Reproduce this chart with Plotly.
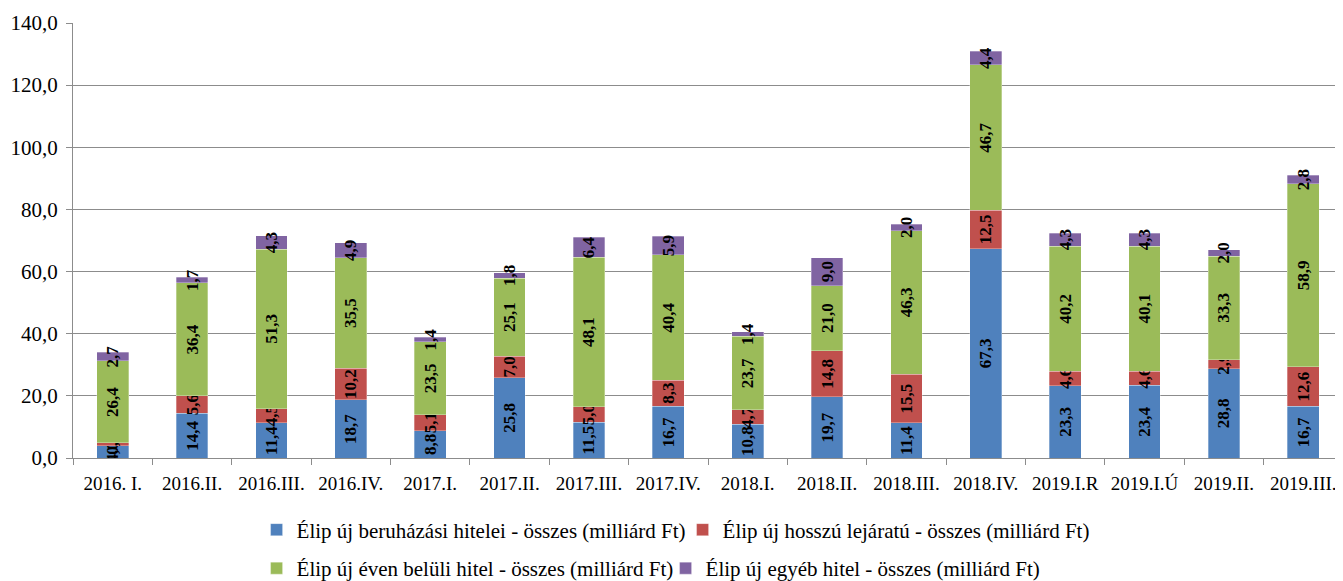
import plotly.graph_objects as go

categories = ["2016. I.", "2016.II.", "2016.III.", "2016.IV.", "2017.I.", "2017.II.",
              "2017.III.", "2017.IV.", "2018.I.", "2018.II.", "2018.III.", "2018.IV.",
              "2019.I.R", "2019.I.Ú", "2019.II.", "2019.III."]
beruhazasi = [4.0, 14.4, 11.4, 18.7, 8.8, 25.8, 11.5, 16.7, 10.8, 19.7, 11.4, 67.3, 23.3, 23.4, 28.8, 16.7]
hosszu = [0.9, 5.6, 4.5, 10.2, 5.1, 7.0, 5.0, 8.3, 4.7, 14.8, 15.5, 12.5, 4.6, 4.6, 2.9, 12.6]
even_beluli = [26.4, 36.4, 51.3, 35.5, 23.5, 25.1, 48.1, 40.4, 23.7, 21.0, 46.3, 46.7, 40.2, 40.1, 33.3, 58.9]
egyeb = [2.7, 1.7, 4.3, 4.9, 1.4, 1.8, 6.4, 5.9, 1.4, 9.0, 2.0, 4.4, 4.3, 4.3, 2.0, 2.8]

series = [
    ("Élip új beruházási hitelei - összes (milliárd Ft)", beruhazasi, "#4F81BD", "legend"),
    ("Élip új hosszú lejáratú - összes (milliárd Ft)", hosszu, "#C0504D", "legend"),
    ("Élip új éven belüli hitel - összes (milliárd Ft)", even_beluli, "#9BBB59", "legend2"),
    ("Élip új egyéb hitel - összes (milliárd Ft)", egyeb, "#8064A2", "legend2"),
]

FONT = "Liberation Serif"

fig = go.Figure()
for name, vals, color, lg in series:
    fig.add_trace(go.Bar(
        name=name, x=categories, y=vals, legend=lg,
        marker=dict(color=color, line=dict(color="rgba(255,255,255,0.6)", width=0.5)),
        texttemplate="%{y:.1f}", textposition="inside", textangle=-90,
        insidetextanchor="middle", constraintext="none",
        textfont=dict(family=FONT, size=17, color="black", weight="bold"),
        hoverinfo="skip",
    ))

legend_common = dict(orientation="h", xref="container", x=0.1862, xanchor="left", yanchor="middle",
                     font=dict(family=FONT, size=21, color="black"),
                     traceorder="normal", itemwidth=30, bgcolor="rgba(0,0,0,0)")

fig.update_layout(
    barmode="stack", bargap=0.6,
    width=1335, height=573,
    margin=dict(l=65, r=0, t=15, b=123, autoexpand=False),
    paper_bgcolor="white", plot_bgcolor="white",
    separators=", ",
    font=dict(family=FONT, color="black"),
    uniformtext=dict(minsize=17, mode="show"),
    showlegend=True,
    legend=dict(y=-0.1655, entrywidth=381, **legend_common),
    legend2=dict(y=-0.254, entrywidth=364, **legend_common),
)
fig.update_yaxes(range=[0, 140], dtick=20, tickformat=".1f",
                 showgrid=True, gridcolor="#8C8C8C", gridwidth=1,
                 showline=True, linecolor="#8C8C8C", linewidth=1,
                 ticks="outside", ticklen=6, tickcolor="#8C8C8C",
                 ticklabelstandoff=4,
                 tickfont=dict(family=FONT, size=21, color="black"), zeroline=False)
fig.update_xaxes(showline=True, linecolor="#8C8C8C", linewidth=1,
                 ticks="outside", ticklen=6, tickcolor="#8C8C8C", tickson="boundaries",
                 ticklabelstandoff=8, tickangle=0,
                 tickfont=dict(family=FONT, size=19, color="black"))

fig.write_html("out.html")
